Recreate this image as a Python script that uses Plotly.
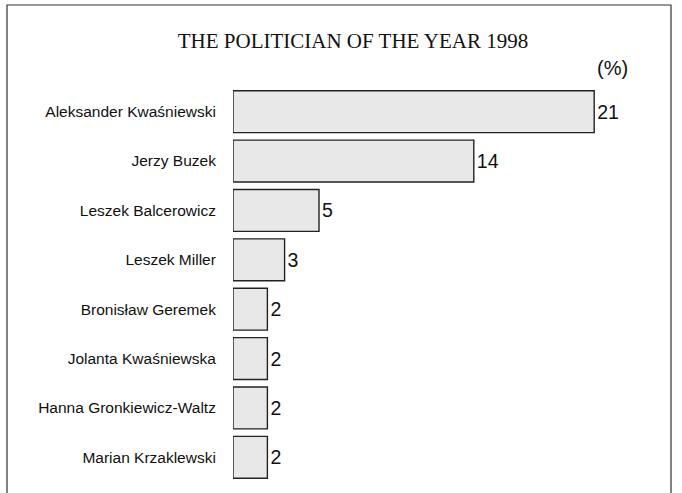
import plotly.graph_objects as go

names = ["Aleksander Kwaśniewski", "Jerzy Buzek", "Leszek Balcerowicz", "Leszek Miller",
         "Bronisław Geremek", "Jolanta Kwaśniewska", "Hanna Gronkiewicz-Waltz", "Marian Krzaklewski"]
values = [21, 14, 5, 3, 2, 2, 2, 2]
title_text = "THE POLITICIAN OF THE YEAR 1998"
unit_text = "(%)"

W, H = 682, 493
L, R, T, B = 233, 27, 87, 11
pw, ph = W - L - R, H - T - B

fig = go.Figure(go.Bar(
    x=values, y=names, orientation="h",
    marker=dict(color="#e8e8e8", line=dict(color="#222222", width=1.4)),
    width=0.85,
    text=[str(v) for v in values], textposition="outside",
    textfont=dict(family="Liberation Sans, Arial", size=19.5, color="#111111"),
    cliponaxis=False,
))

def px_x(p):
    return (p - L) / pw

def px_y(p):
    return (H - B - p) / ph

fig.update_layout(
    width=W, height=H,
    margin=dict(l=L, r=R, t=T, b=B),
    paper_bgcolor="white", plot_bgcolor="white",
    showlegend=False,
    title=dict(text=title_text, x=353 / W, xanchor="center", y=1 - 41 / H, yanchor="middle",
               font=dict(family="Liberation Serif, Times New Roman", size=21, color="#111111")),
    xaxis=dict(range=[0, pw / 17.2], visible=False),
    yaxis=dict(autorange="reversed", showgrid=False, zeroline=False, showline=False,
               ticks="outside", ticklen=13, tickcolor="rgba(0,0,0,0)",
               tickfont=dict(family="Liberation Sans, Arial", size=15.5, color="#111111")),
    annotations=[dict(text=unit_text, xref="paper", yref="paper", x=px_x(612), y=px_y(68),
                      xanchor="center", yanchor="middle", showarrow=False,
                      font=dict(family="Liberation Sans, Arial", size=20, color="#111111"))],
    shapes=[dict(type="rect", xref="paper", yref="paper",
                 x0=px_x(7), x1=px_x(671), y0=px_y(520), y1=px_y(5),
                 line=dict(color="#333333", width=1.2), layer="below")],
)

fig.write_html("out.html", config={"displayModeBar": False},
               post_script="document.body.style.margin='0';")
